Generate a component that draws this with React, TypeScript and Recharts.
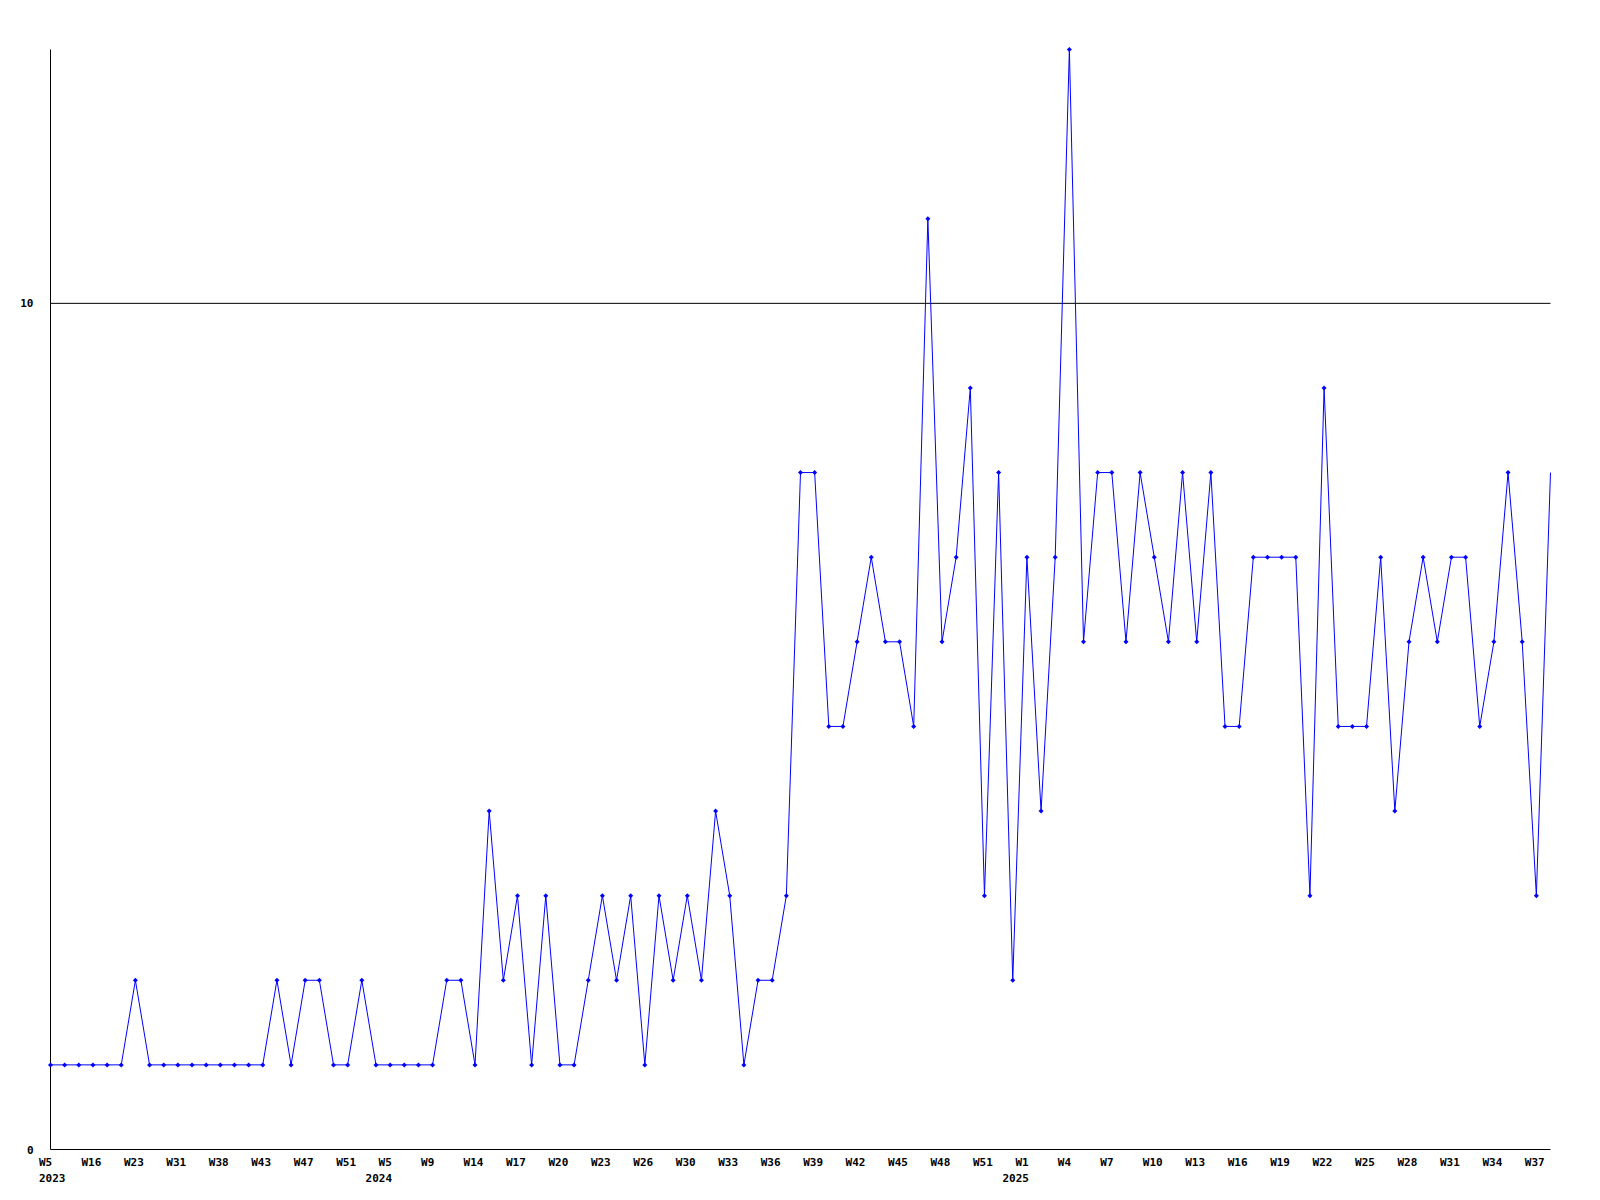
import { Line, LineChart, ReferenceLine, XAxis, YAxis } from "recharts";

// week labels, one per point (only every third one is printed on the axis)
const weeks = [
  "W5", "W9", "W12", "W16", "W18", "W21", "W23", "W25", "W28", "W31",
  "W33", "W36", "W38", "W40", "W41", "W43", "W44", "W46", "W47", "W48",
  "W50", "W51", "W52", "W2", "W5", "W7", "W8", "W9", "W11", "W12",
  "W14", "W15", "W16", "W17", "W18", "W19", "W20", "W21", "W22", "W23",
  "W24", "W25", "W26", "W28", "W29", "W30", "W31", "W32", "W33", "W34",
  "W35", "W36", "W37", "W38", "W39", "W40", "W41", "W42", "W43", "W44",
  "W45", "W46", "W47", "W48", "W49", "W50", "W51", "W52", "W53", "W1",
  "W2", "W3", "W4", "W5", "W6", "W7", "W8", "W9", "W10", "W11",
  "W12", "W13", "W14", "W15", "W16", "W17", "W18", "W19", "W20", "W21",
  "W22", "W23", "W24", "W25", "W26", "W27", "W28", "W29", "W30", "W31",
  "W32", "W33", "W34", "W35", "W36", "W37", "W38",
];

const years = weeks.map((_, i) => (i < 23 ? "2023" : i < 69 ? "2024" : "2025"));

const counts = [
  1, 1, 1, 1, 1, 1, 2, 1, 1, 1,
  1, 1, 1, 1, 1, 1, 2, 1, 2, 2,
  1, 1, 2, 1, 1, 1, 1, 1, 2, 2,
  1, 4, 2, 3, 1, 3, 1, 1, 2, 3,
  2, 3, 1, 3, 2, 3, 2, 4, 3, 1,
  2, 2, 3, 8, 8, 5, 5, 6, 7, 6,
  6, 5, 11, 6, 7, 9, 3, 8, 2, 7,
  4, 7, 13, 6, 8, 8, 6, 8, 7, 6,
  8, 6, 8, 5, 5, 7, 7, 7, 7, 3,
  9, 5, 5, 5, 7, 4, 6, 7, 6, 7,
  7, 5, 6, 8, 6, 3, 8,
];

const yTicks = [0, 10];

const data = weeks.map((w, i) => ({ key: `${years[i]}-${w}-${i}`, count: counts[i] }));

const FONT = "'DejaVu Sans Mono', monospace";
const BLUE = "#0000ff";

function WeekTick(props: any) {
  const { x, y, payload } = props;
  const i: number = payload.index;
  const showYear = i === 0 || years[i] !== years[i - 3];
  const common = { fontFamily: FONT, fontSize: 11, fontWeight: "bold", fill: "#000" } as const;
  // week text starts a little left of the point; the year line lines up with its right end
  const wx = x - 11.5;
  const yx = i === 0 ? wx : x + 2;
  return (
    <g>
      <text x={wx} y={y + 16} textAnchor="start" {...common}>
        {weeks[i]}
      </text>
      {showYear ? (
        <text x={yx} y={y + 32} textAnchor={i === 0 ? "start" : "end"} {...common}>
          {years[i]}
        </text>
      ) : null}
    </g>
  );
}

function CountTick(props: any) {
  const { x, y, payload } = props;
  return (
    <text x={x - 17} y={y + 4} textAnchor="end" fontFamily={FONT} fontSize={11} fontWeight="bold" fill="#000">
      {payload.value}
    </text>
  );
}

function Marker(props: any) {
  const { cx, cy, index } = props;
  if (index === counts.length - 1 || cx == null) return null;
  return (
    <polygon
      key={index}
      points={`${cx},${cy - 2.5} ${cx + 2.5},${cy} ${cx},${cy + 2.5} ${cx - 2.5},${cy}`}
      fill={BLUE}
    />
  );
}

export default function App() {
  return (
    <div style={{ position: "absolute", left: 0, top: 0, width: 1600, height: 1200, background: "#fff" }}>
      <LineChart width={1600} height={1200} data={data} margin={{ top: 49.5, right: 49.5, bottom: 0, left: 0 }}>
        <XAxis
          dataKey="key"
          interval={2}
          height={50.5}
          tickLine={false}
          tickSize={0}
          tickMargin={0}
          tick={<WeekTick />}
          axisLine={{ stroke: "#000" }}
        />
        <YAxis
          domain={[0, 13]}
          ticks={yTicks}
          width={50.5}
          tickLine={false}
          tickSize={0}
          tickMargin={0}
          tick={<CountTick />}
          axisLine={{ stroke: "#000" }}
        />
        <ReferenceLine y={10} stroke="#000" strokeWidth={1} />
        <Line
          type="linear"
          dataKey="count"
          stroke={BLUE}
          strokeWidth={1}
          dot={<Marker />}
          activeDot={false}
          isAnimationActive={false}
        />
      </LineChart>
    </div>
  );
}
